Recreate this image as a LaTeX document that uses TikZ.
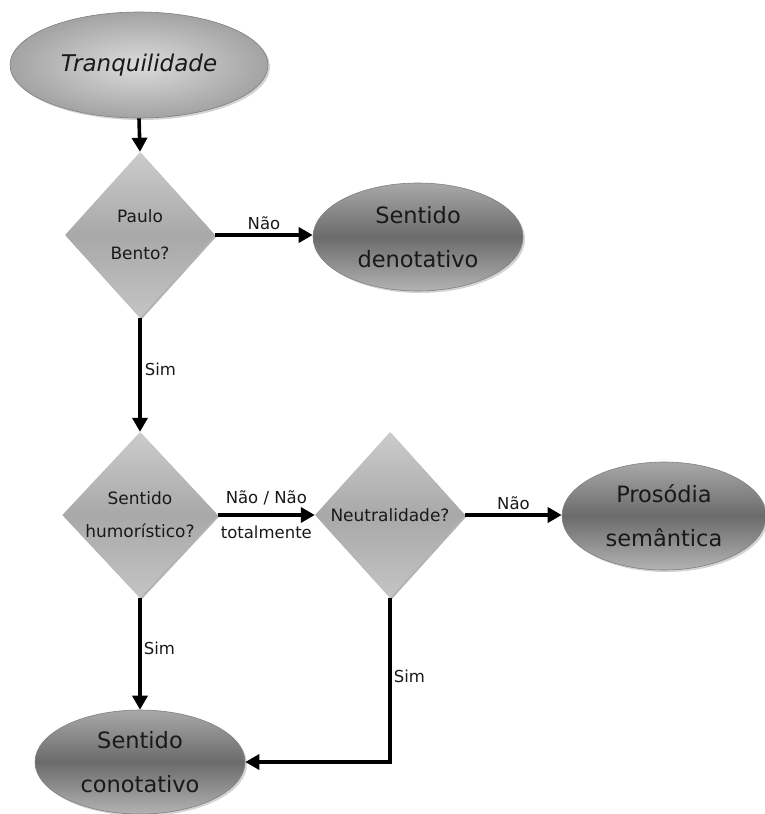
\documentclass[tikz,border=0pt]{standalone}
\usepackage{fontspec}
\setmainfont{DejaVu Sans}
\usetikzlibrary{shapes.geometric,arrows.meta,shadows,positioning}
\definecolor{txt}{gray}{0.1}
\definecolor{dtop}{gray}{0.66}
\definecolor{dmid}{gray}{0.42}
\definecolor{dbot}{gray}{0.70}
\definecolor{ltin}{gray}{0.86}
\definecolor{ltout}{gray}{0.64}
\definecolor{qtop}{gray}{0.80}
\definecolor{qmid}{gray}{0.66}
\definecolor{qbot}{gray}{0.77}
\definecolor{edge}{gray}{0.50}
\tikzset{
  startell/.style={ellipse, inner sep=0pt, minimum width=258pt, minimum height=106pt,
    draw=edge, line width=0.6pt, shading=radial, inner color=ltin, outer color=ltout,
    drop shadow={opacity=0.35, shadow xshift=2pt, shadow yshift=-2pt},
    text=txt, font=\fontsize{23}{43}\selectfont\itshape},
  endell/.style={ellipse, inner sep=0pt, minimum width=210pt, minimum height=108pt,
    draw=edge, line width=0.6pt, top color=dtop, bottom color=dbot, middle color=dmid,
    drop shadow={opacity=0.35, shadow xshift=2pt, shadow yshift=-2pt},
    text=txt, align=center, font=\fontsize{22.5}{44}\selectfont},
  question/.style={diamond, inner sep=0pt, minimum width=150pt, minimum height=166pt,
    draw=none, top color=qtop, bottom color=qbot, middle color=qmid,
    drop shadow={opacity=0.6, shadow xshift=1.5pt, shadow yshift=-1.5pt},
    text=txt, align=center},
  flow/.style={line width=3.6pt, -{Triangle[length=14pt,width=15pt]}},
  lbl/.style={text=txt, font=\fontsize{16.5}{35}\selectfont, inner sep=1pt}
}
\begin{document}
\begin{tikzpicture}[x=1pt,y=-1pt]
\useasboundingbox (0,0) rectangle (765,814);
\node[startell] (tranq) at (139,65) {Tranquilidade};
\node[question, font=\fontsize{17}{37}\selectfont] (paulo) at (140,235) {Paulo\\Bento?};
\node[endell] (denot) at (418,237) {Sentido\\denotativo};
\node[question, font=\fontsize{17}{33}\selectfont] (humor) at (140,515) {Sentido\\humorístico?};
\node[question, font=\fontsize{17}{33}\selectfont] (neutr) at (390,515) {Neutralidade?};
\node[endell, minimum width=204pt] (prosod) at (664,516) {Prosódia\\semântica};
\node[endell, minimum height=104pt] (conot) at (140,762) {Sentido\\conotativo};

\draw[flow] (tranq.south) -- (paulo.north);
\draw[flow] (paulo.east) -- node[lbl, above, yshift=2pt] (l1) {Não} (paulo.east -| denot.west);
\draw[flow] (paulo.south) -- node[lbl, right, xshift=2pt, pos=0.45] (l2) {Sim} (humor.north);
\draw[flow] (humor.east) -- node[lbl, align=center] (l3) {Não / Não\\totalmente} (neutr.west);
\draw[flow] (neutr.east) -- node[lbl, above, yshift=2pt] (l4) {Não} (neutr.east -| prosod.west);
\draw[flow] (humor.south) -- node[lbl, right, xshift=1pt, pos=0.45] (l5) {Sim} (conot.north);
\draw[flow] (neutr.south) |- node[lbl, right, xshift=1pt, pos=0.24] (l6) {Sim} (conot.east);
\end{tikzpicture}
\end{document}
